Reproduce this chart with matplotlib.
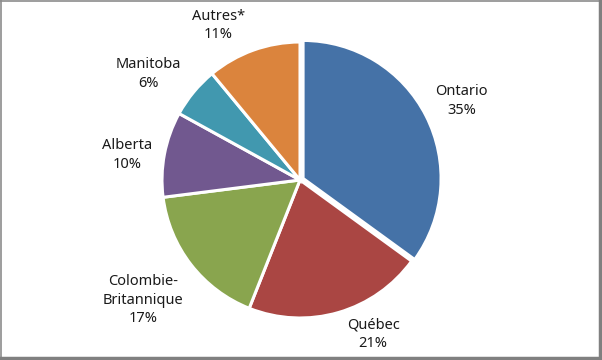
import matplotlib
matplotlib.use('agg')
import matplotlib.pyplot as plt
from matplotlib.lines import Line2D

labels = ['Ontario', 'Québec', 'Colombie-\nBritannique', 'Alberta', 'Manitoba', 'Autres*']
shares = [35, 21, 17, 10, 6, 11]
colors = ['#4572A7', '#AA4643', '#89A54E', '#71588F', '#4198AF', '#DB843D']
explode = [0.025, 0, 0, 0, 0, 0]
# label positions in pie-radius units (Excel "best fit" placement)
label_pos = [(1.17, 0.57), (0.53, -1.12), (-1.14, -0.87), (-1.25, 0.18), (-1.10, 0.77), (-0.59, 1.12)]

plt.rcParams['font.family'] = ['Noto Sans', 'DejaVu Sans']

fig = plt.figure(figsize=(6.02, 3.6), dpi=100)
ax = fig.add_axes([0, 0, 1, 1])
r_px = 138.0
cx, cy = 300.0, 180.0
wedges, _ = ax.pie(shares, colors=colors, startangle=90, counterclock=False, explode=explode,
                   radius=1.0, wedgeprops=dict(edgecolor='white', linewidth=2.2))
ax.set_xlim(-cx / r_px, (602 - cx) / r_px)
ax.set_ylim(-cy / r_px, (360 - cy) / r_px)
ax.set_aspect('auto')
ax.axis('off')

for lab, s, (x, y) in zip(labels, shares, label_pos):
    ax.text(x, y, lab + '\n' + str(s) + '%', ha='center', va='center',
            fontsize=10.5, color='#1a1a1a', linespacing=1.35)

# gray frame with slightly heavier right/bottom edge
fig.add_artist(Line2D([0.001, 0.001], [0, 1], color='#8c8c8c', lw=1.2, transform=fig.transFigure))
fig.add_artist(Line2D([0, 1], [0.998, 0.998], color='#8c8c8c', lw=1.2, transform=fig.transFigure))
fig.add_artist(Line2D([0.996, 0.996], [0, 1], color='#808080', lw=2.5, transform=fig.transFigure))
fig.add_artist(Line2D([0, 1], [0.005, 0.005], color='#808080', lw=2.5, transform=fig.transFigure))

fig.savefig('out.png', dpi=100)
